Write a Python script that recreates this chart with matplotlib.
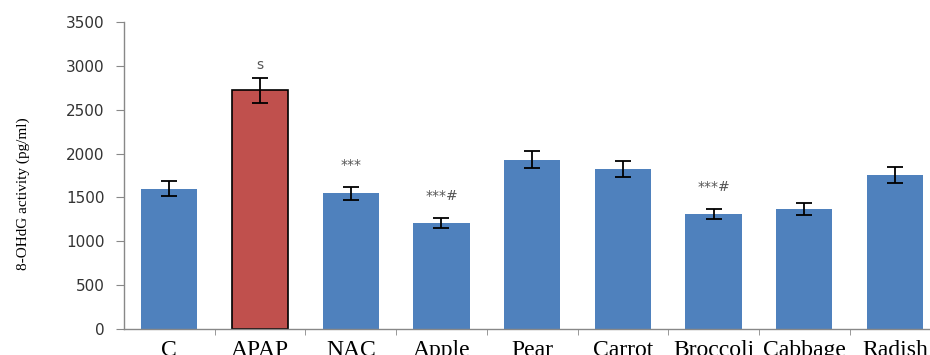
import matplotlib
matplotlib.use("Agg")
import matplotlib.pyplot as plt
import numpy as np

groups = ["C", "APAP", "NAC", "Apple", "Pear", "Carrot", "Broccoli", "Cabbage", "Radish"]
means = [1600, 2720, 1545, 1210, 1930, 1825, 1310, 1370, 1755]
errors = [85, 140, 75, 60, 95, 90, 60, 70, 90]
marks = ["", "s", "***", "***#", "", "", "***#", "", ""]
y_ticks = [0, 500, 1000, 1500, 2000, 2500, 3000, 3500]

blue = "#4F81BD"
red = "#C0504D"
colors = [red if g == "APAP" else blue for g in groups]
edges = ["black" if g == "APAP" else "none" for g in groups]

plt.rcParams["font.family"] = ["Liberation Serif", "DejaVu Serif"]

fig = plt.figure(figsize=(9.3, 3.55), dpi=100)
ax = fig.add_axes([124 / 930, 26 / 355, (930 - 124) / 930, (329 - 22) / 355])

x = np.arange(len(groups))
ax.bar(x, means, width=0.62, color=colors, edgecolor=edges, linewidth=1.2, zorder=2)
ax.errorbar(x, means, yerr=errors, fmt="none", ecolor="black", elinewidth=1.3,
            capsize=6, capthick=1.3, zorder=3)

# significance markers above the error bars
for xi, m, e, lab in zip(x, means, errors, marks):
    if lab:
        gap = 150 if lab == "s" else 250
        ax.text(xi, m + e + gap, lab, ha="center", va="center", fontsize=10,
                color="#555555", family="DejaVu Sans")

ax.set_ylim(0, 3500)
ax.set_xlim(-0.5, -0.5 + (930 - 124) / 90.7)
ax.set_yticks(y_ticks)
ax.set_yticklabels([str(v) for v in y_ticks], fontsize=11, family="DejaVu Sans",
                   color="#333333")
ax.set_xticks(x)
ax.set_xticklabels(groups, fontsize=17)
ax.set_xticks(np.arange(len(groups) - 1) + 0.5, minor=True)
ax.tick_params(axis="x", which="major", length=0, pad=8)
ax.tick_params(axis="x", which="minor", length=4, color="#888888", direction="out")
ax.tick_params(axis="y", length=6, color="#888888", pad=8)

for side in ["top", "right"]:
    ax.spines[side].set_visible(False)
for side in ["left", "bottom"]:
    ax.spines[side].set_color("#888888")
    ax.spines[side].set_linewidth(1.0)

ax.set_ylabel("8-OHdG activity (pg/ml)", fontsize=11)
ax.yaxis.set_label_coords(-0.117, 0.441)

fig.savefig("out.png", dpi=100)
